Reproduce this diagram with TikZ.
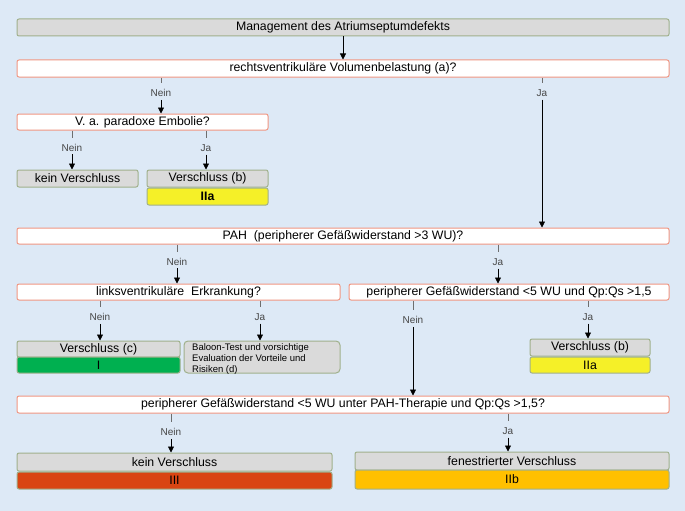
\documentclass[tikz,border=0pt]{standalone}
\usepackage{fontspec}
\setmainfont{Liberation Sans}
\usetikzlibrary{arrows.meta}
\definecolor{bgblue}{RGB}{221,233,246}
\definecolor{qborder}{RGB}{240,150,130}
\definecolor{gborder}{RGB}{160,176,140}
\definecolor{boxgray}{RGB}{218,218,218}
\definecolor{labgray}{RGB}{70,70,70}
\definecolor{tickgray}{RGB}{110,110,110}
\definecolor{cgreen}{RGB}{0,176,80}
\definecolor{cyellow}{RGB}{245,240,40}
\definecolor{cred}{RGB}{217,69,18}
\definecolor{camber}{RGB}{255,192,0}
\begin{document}
\begin{tikzpicture}[x=1pt,y=-1pt,
  base/.style={rounded corners=2pt, line width=1pt, inner sep=0pt, font=\fontsize{12.3}{14}\selectfont},
  qbox/.style={base, draw=qborder, fill=white},
  gbox/.style={base, draw=gborder, fill=boxgray},
  lab/.style={font=\fontsize{10}{12}\selectfont, text=labgray, inner sep=0pt},
  tick/.style={draw=tickgray, line width=0.5pt, shorten >=6pt},
  arr/.style={line width=0.7pt, shorten <=3pt, -{Triangle[length=6pt,width=6pt]}}
]
\useasboundingbox[fill=bgblue] (0,0) rectangle (685,511);

% boxes
\node[gbox, minimum width=652pt, minimum height=17pt] (title) at (343,27.5) {Management des Atriumseptumdefekts};
\node[qbox, minimum width=652pt, minimum height=17pt] (q1) at (343,68.5) {rechtsventrikuläre Volumenbelastung (a)?};
\node[qbox, minimum width=251pt, minimum height=16pt] (q2) at (142.5,122) {V. a. paradoxe Embolie?};
\node[gbox, minimum width=121pt, minimum height=17pt] (kv1) at (77.5,178.5) {kein Verschluss};
\node[gbox, minimum width=121pt, minimum height=17pt] (vb1) at (207.5,178.5) {Verschluss (b)};
\node[gbox, fill=cyellow, minimum width=121pt, minimum height=17pt, font=\fontsize{12.3}{14}\selectfont\bfseries] (iia1) at (207.5,196.5) {IIa};
\node[qbox, minimum width=652pt, minimum height=16pt] (pah) at (343,236) {PAH\ \ (peripherer Gefäßwiderstand >3 WU)?};
\node[qbox, minimum width=323pt, minimum height=16pt] (lv) at (178.5,292) {linksventrikuläre\ \ Erkrankung?};
\node[qbox, minimum width=320pt, minimum height=16pt] (pgw) at (509,292) {peripherer Gefäßwiderstand <5 WU und Qp:Qs >1,5};
\node[gbox, minimum width=163pt, minimum height=16pt] (vc) at (98.5,349) {Verschluss (c)};
\node[gbox, fill=cgreen, minimum width=163pt, minimum height=16pt] (g1) at (98.5,365) {I};
\node[gbox, rounded corners=4pt, minimum width=156pt, minimum height=32pt] (bal) at (262,357) {};
\node[anchor=north west, inner sep=0pt, align=left, font=\fontsize{9.5}{11}\selectfont] (baltext) at (192,343.5) {Baloon-Test und vorsichtige\\Evaluation der Vorteile und\\Risiken (d)};
\node[gbox, minimum width=120pt, minimum height=17pt] (vb2) at (590,347.5) {Verschluss (b)};
\node[gbox, fill=cyellow, minimum width=120pt, minimum height=16pt] (iia2) at (590,365) {IIa};
\node[qbox, minimum width=652pt, minimum height=17pt] (q4) at (343,404.5) {peripherer Gefäßwiderstand <5 WU unter PAH-Therapie und Qp:Qs >1,5?};
\node[gbox, minimum width=315pt, minimum height=18pt] (kv2) at (174.5,462) {kein Verschluss};
\node[gbox, fill=cred, minimum width=315pt, minimum height=17pt] (iii) at (174.5,480.5) {III};
\node[gbox, minimum width=314pt, minimum height=18pt] (fv) at (512,461) {fenestrierter Verschluss};
\node[gbox, fill=camber, minimum width=314pt, minimum height=19pt] (iib) at (512,479.5) {IIb};

% labels
\node[lab] (n1) at (161,93) {Nein};
\node[lab] (j1) at (542,93) {Ja};
\node[lab] (n2) at (72,147.5) {Nein};
\node[lab] (j2) at (206,148) {Ja};
\node[lab] (n3) at (177,261.5) {Nein};
\node[lab] (j3) at (498,262) {Ja};
\node[lab] (n4) at (100,317) {Nein};
\node[lab] (j4) at (260,317) {Ja};
\node[lab] (n5) at (413,320) {Nein};
\node[lab] (j5) at (588,317) {Ja};
\node[lab] (n6) at (171,432) {Nein};
\node[lab] (j6) at (508,431) {Ja};

% connectors
\draw[arr, shorten <=0pt] (title) -- (q1);
\foreach \q/\l/\t in {q1/n1/q2, q1/j1/pah, q2/n2/kv1, q2/j2/vb1, pah/n3/lv, pah/j3/pgw, lv/n4/vc, lv/j4/bal, pgw/n5/q4, pgw/j5/vb2, q4/n6/kv2, q4/j6/fv}{
  \draw[tick] (\l |- \q.south) -- (\l);
  \draw[arr] (\l) -- (\l |- \t.north);
}
\end{tikzpicture}
\end{document}
